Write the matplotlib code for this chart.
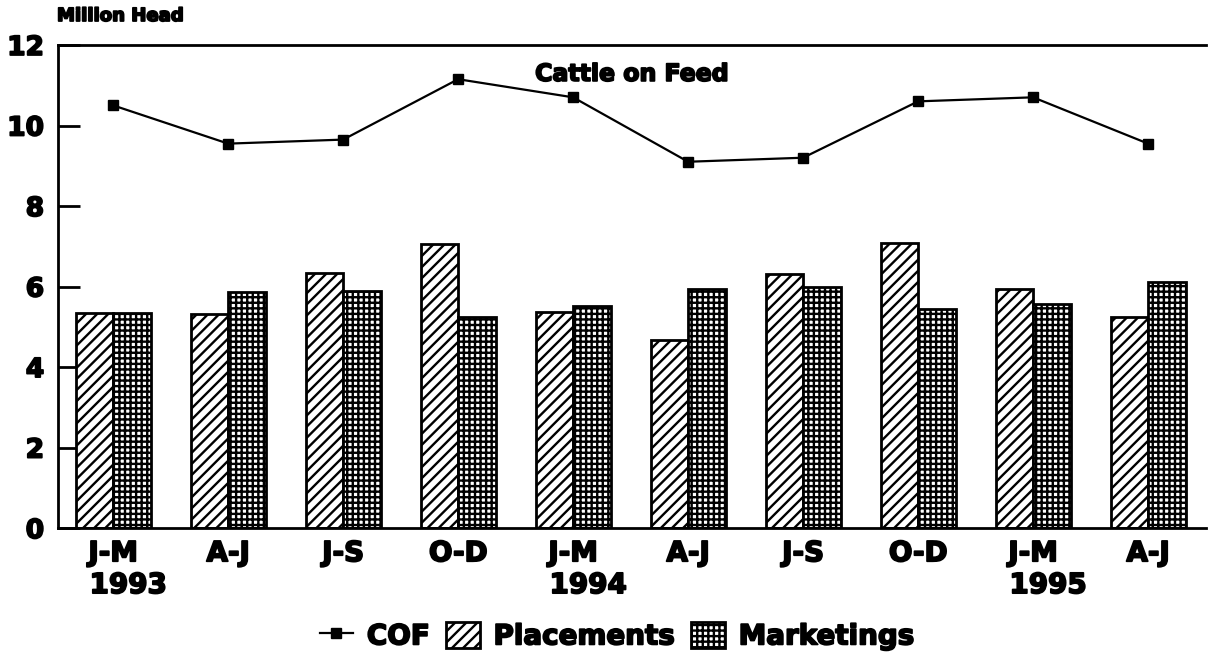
import matplotlib
matplotlib.use('Agg')
import matplotlib.pyplot as plt
import matplotlib.patheffects as pe
import numpy as np

# quarterly data, million head
quarters = ['J-M', 'A-J', 'J-S', 'O-D', 'J-M', 'A-J', 'J-S', 'O-D', 'J-M', 'A-J']
year_pos = [0, 4, 8]
years = ['1993', '1994', '1995']

cof = [10.5, 9.55, 9.65, 11.15, 10.7, 9.1, 9.2, 10.6, 10.7, 9.55]
placements = [5.35, 5.33, 6.33, 7.05, 5.37, 4.67, 6.32, 7.08, 5.93, 5.25]
marketings = [5.35, 5.87, 5.9, 5.24, 5.52, 5.94, 5.98, 5.45, 5.56, 6.12]

plt.rcParams['font.family'] = ['DejaVu Sans']
plt.rcParams['font.weight'] = 'bold'
plt.rcParams['hatch.linewidth'] = 1.7

# fake the heavy typeface of the original with a thin stroke
heavy = [pe.withStroke(linewidth=1.3, foreground='black')]

fig = plt.figure(figsize=(12.08, 6.52), dpi=100)
ax = fig.add_axes([0.048, 0.19, 0.95, 0.741])

x = np.arange(len(quarters))
w = 0.326

ax.plot(x, cof, color='black', linewidth=1.6, marker='s', markersize=7,
        label='COF', zorder=3)
ax.bar(x - w / 2, placements, w, facecolor='white', edgecolor='black',
       hatch='///', linewidth=2, label='Placements', zorder=2)
ax.bar(x + w / 2, marketings, w, facecolor='white', edgecolor='black',
       hatch='+++', linewidth=2, label='Marketings', zorder=2)

ax.set_xlim(-0.48, 9.5)
ax.set_ylim(0, 12)
ax.set_yticks(np.arange(0, 13, 2))
ax.tick_params(axis='y', direction='in', length=16, width=2, pad=10,
               labelsize=19)
ax.set_xticks(x)
ax.set_xticklabels(quarters, fontsize=20, fontweight='bold')
ax.tick_params(axis='x', length=0, pad=8)
for lab in ax.get_yticklabels() + ax.get_xticklabels():
    lab.set_fontweight('bold')
    lab.set_path_effects(heavy)

for side in ['left', 'top', 'bottom']:
    ax.spines[side].set_linewidth(2)
ax.spines['right'].set_visible(False)

for p, yr in zip(year_pos, years):
    ax.annotate(yr, xy=(p + 0.13, 0), xycoords=('data', 'axes fraction'),
                xytext=(0, -57), textcoords='offset pixels',
                ha='center', va='center', fontsize=20, fontweight='bold',
                path_effects=heavy)

ax.text(0.5, 0.965, 'Cattle on Feed', transform=ax.transAxes, ha='center',
        va='top', fontsize=17, fontweight='bold', path_effects=heavy)
fig.text(57 / 1208, 1 - 16 / 652, 'Million Head', ha='left', va='center',
         fontsize=13, fontweight='bold', path_effects=heavy)

handles, labels = ax.get_legend_handles_labels()
lookup = dict(zip(labels, handles))
names = ['COF', 'Placements', 'Marketings']
leg = fig.legend([lookup[n] for n in names], names,
                 loc='center', bbox_to_anchor=(617 / 1208, 1 - 636 / 652),
                 ncol=3, frameon=False, fontsize=20, handlelength=1.2,
                 handleheight=1.1, handletextpad=0.5, columnspacing=0.6,
                 borderpad=0)
for t in leg.get_texts():
    t.set_path_effects(heavy)

fig.savefig('out.png', dpi=100)
